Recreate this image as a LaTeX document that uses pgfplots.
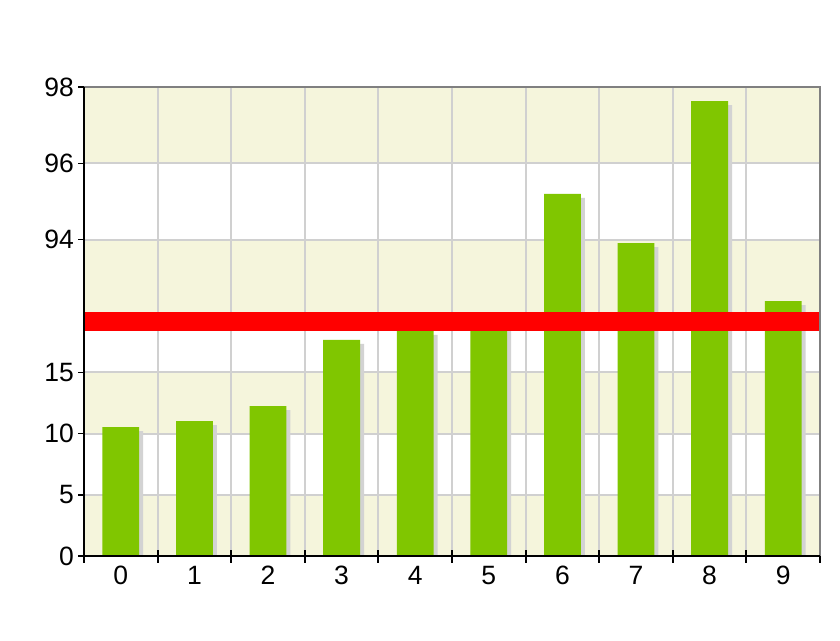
\documentclass[border=0pt]{standalone}
\usepackage{pgfplots}
\pgfplotsset{compat=1.18}
\usepackage{pgfplotstable}
\usepackage{fontspec}
\setmainfont{Liberation Sans}
\definecolor{barg}{RGB}{128,198,0}
\definecolor{shad}{RGB}{211,211,211}
\definecolor{bgc}{RGB}{245,245,220}
\definecolor{gridc}{RGB}{208,208,208}
\definecolor{bord}{RGB}{128,128,128}

\pgfplotstableread{
x y
0 10.54
1 11.03
2 12.25
3 17.65
4 18.40
5 19.60
6 95.20
7 93.91
8 97.63
9 92.39
}\data

\pgfplotsset{brk/.style={
  set layers=standard,
  scale only axis, width=736pt, height=234.5pt,
  anchor=south west,
  xmin=-0.5, xmax=9.5,
  axis line style={draw=none},
  tick pos=left,
  xtick={-0.5,0.5,...,9.5},
  ytick=\empty,
  xmajorgrids=true,
  grid style={gridc, line width=2pt},
  major grid style={gridc, line width=2pt},
  tick style={black, line width=2pt},
  major tick length=13pt,
  xtick align=center, ytick align=outside,
  extra y tick style={major tick length=6pt, grid=major, tick style={line width=1.5pt}},
  tick label style={font=\fontsize{26.5}{30}\selectfont},
  yticklabel style={inner sep=0pt, xshift=-4pt},
  /pgf/number format/assume math mode=true,
}}

\begin{document}
\begin{tikzpicture}
% lower part
\begin{axis}[brk, at={(84pt,84pt)},
  ymin=0, ymax=19.16,
  extra y ticks={0,5,10,15},
  xticklabels={0,1,2,3,4,5,6,7,8,9,{}},
  xticklabel style={xshift=36.8pt},
]
\begin{pgfonlayer}{axis background}
\fill[bgc] (axis cs:-0.5,0) rectangle (axis cs:9.5,5);
\fill[bgc] (axis cs:-0.5,10) rectangle (axis cs:9.5,15);
\end{pgfonlayer}
\addplot[ybar, bar width=0.5, bar shift=4pt, fill=shad, draw=none, yshift=-4pt] table[x=x,y=y] {\data};
\addplot[ybar, bar width=0.5, bar shift=0pt, fill=barg, draw=none] table[x=x,y=y] {\data};
\begin{pgfonlayer}{axis foreground}
\draw[bord, line width=2pt] (rel axis cs:1,0) -- (rel axis cs:1,1);
\draw[black, line width=2pt] (rel axis cs:0,0) -- (rel axis cs:1,0);
\draw[black, line width=2pt] (rel axis cs:0,0) -- (rel axis cs:0,1);
\end{pgfonlayer}
\end{axis}
% upper part
\begin{axis}[brk, at={(84pt,318.5pt)},
  ymin=91.853, ymax=98,
  extra y ticks={94,96,98},
  xticklabels={},
]
\begin{pgfonlayer}{axis background}
\fill[bgc] (rel axis cs:0,0) rectangle (axis cs:9.5,94);
\fill[bgc] (axis cs:-0.5,96) rectangle (axis cs:9.5,98);
\end{pgfonlayer}
\addplot[ybar, bar width=0.5, bar shift=4pt, fill=shad, draw=none, yshift=-4pt] table[x=x,y=y] {\data};
\addplot[ybar, bar width=0.5, bar shift=0pt, fill=barg, draw=none] table[x=x,y=y] {\data};
\begin{pgfonlayer}{axis foreground}
\draw[bord, line width=2pt] (rel axis cs:0,1) -- (rel axis cs:1,1) -- (rel axis cs:1,0);
\draw[black, line width=2pt] (rel axis cs:0,0) -- (rel axis cs:0,1);
\end{pgfonlayer}
\end{axis}
% axis break band
\fill[red] (85pt,309pt) rectangle (820pt,328pt);
\pgfresetboundingbox
\useasboundingbox (0,0) rectangle (840pt,640pt);
\end{tikzpicture}
\end{document}
